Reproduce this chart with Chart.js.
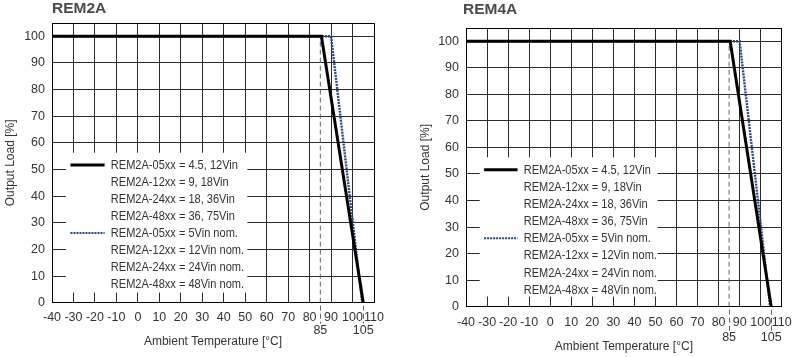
<!DOCTYPE html>
<html><head><meta charset="utf-8">
<script src="https://cdn.jsdelivr.net/npm/chart.js@4.4.0/dist/chart.umd.min.js"></script>
<style>
html,body{margin:0;padding:0;background:#fff;width:800px;height:357px;overflow:hidden}
.wrap{position:absolute;top:0;width:400px;height:357px}
canvas{display:block}
</style></head><body>
<div class="wrap" style="left:0"><canvas id="c1" width="400" height="357"></canvas></div>
<div class="wrap" style="left:400px"><canvas id="c2" width="400" height="357"></canvas></div>
<script>
// ---------- data ----------
const chartTitles = ['REM2A', 'REM4A'];
const xMin = -40, xMax = 110, yMin = 0, yMax = 105;
const xTicks = [-40, -30, -20, -10, 0, 10, 20, 30, 40, 50, 60, 70, 80, 85, 90, 100, 105, 110];
const yTicks = [0, 10, 20, 30, 40, 50, 60, 70, 80, 90, 100, 105];
const markerTemps = [85, 105];
const ratedTemps = [-40, 85.5, 105];
const ratedLoads = [100, 100, 0];
const nomTemps = [-40, 90, 104.5];
const nomLoads = [100, 100, 0];
const refTemps = [85, 85];
const refLoads = [0, 100];
const legendLabels = [
  'REM2A-05xx = 4.5, 12Vin',
  'REM2A-12xx = 9, 18Vin',
  'REM2A-24xx = 18, 36Vin',
  'REM2A-48xx = 36, 75Vin',
  'REM2A-05xx = 5Vin nom.',
  'REM2A-12xx = 12Vin nom.',
  'REM2A-24xx = 24Vin nom.',
  'REM2A-48xx = 48Vin nom.'
];
const xAxisTitle = 'Ambient Temperature [°C]';
const yAxisTitle = 'Output Load [%]';

// ---------- styling / layout ----------
const FONT = '"Liberation Sans", Arial, sans-serif';
const GRID = '#2a2a2a';
const BLUE = '#24468f';
const layouts = [
  {yWidth:52, yTitlePad:3.5, top:23, right:26, xHeight:54.3, xTickPad:8, xLineH:13, xTitlePad:7.8, titleDx:0, titleY:9, rowY:51.7, rowStep:17, markLen:21},
  {yWidth:66, yTitlePad:18.6, top:28, right:12, xHeight:50.3, xTickPad:8.3, xLineH:15, xTitlePad:2.8, titleDx:-3, titleY:10, rowY:51.6, rowStep:17.1, markLen:24}
];

const pts = (xs, ys) => xs.map((x, i) => ({x, y: ys[i]}));

function makeChart(id, idx) {
  const L = layouts[idx];
  const decor = {
    id: 'decor' + idx,
    beforeDatasetsDraw(chart) {
      const {ctx} = chart, xs = chart.scales.x, ys = chart.scales.y;
      const bl = xs.getPixelForValue(-33.5), br = xs.getPixelForValue(51);
      const bt = ys.getPixelForValue(56.3), bb = ys.getPixelForValue(3.8);
      ctx.save();
      ctx.fillStyle = '#fff';
      ctx.fillRect(bl, bt, br - bl, bb - bt);
      const y0 = ys.getPixelForValue(L.rowY);
      const sx0 = xs.getPixelForValue(-31.4), sx1 = xs.getPixelForValue(-15.5);
      const tx = xs.getPixelForValue(-12.6);
      ctx.lineWidth = 3; ctx.strokeStyle = '#000';
      ctx.beginPath(); ctx.moveTo(sx0, y0); ctx.lineTo(sx1, y0); ctx.stroke();
      const yd = y0 + 4 * L.rowStep;
      ctx.lineWidth = 2; ctx.strokeStyle = BLUE; ctx.setLineDash([2, 1]);
      ctx.beginPath(); ctx.moveTo(sx0, yd); ctx.lineTo(sx1, yd); ctx.stroke();
      ctx.setLineDash([]);
      // condensed-looking legend text
      ctx.translate(tx, 0);
      ctx.scale(0.83, 1);
      ctx.font = '13.3px ' + FONT;
      ctx.fillStyle = '#333';
      ctx.textBaseline = 'middle';
      ctx.textAlign = 'left';
      legendLabels.forEach((t, i) => ctx.fillText(t, 0, y0 + i * L.rowStep + 0.5));
      ctx.restore();
    },
    afterDraw(chart) {
      const {ctx, chartArea} = chart, xs = chart.scales.x;
      ctx.save();
      ctx.strokeStyle = '#666'; ctx.lineWidth = 1; ctx.setLineDash([5, 3]);
      markerTemps.forEach(t => {
        const x = Math.round(xs.getPixelForValue(t)) + 0.5;
        ctx.beginPath(); ctx.moveTo(x, chartArea.bottom + 3); ctx.lineTo(x, chartArea.bottom + L.markLen); ctx.stroke();
      });
      ctx.setLineDash([]);
      ctx.fillStyle = '#4a4a4a';
      ctx.font = 'bold 15.5px ' + FONT;
      ctx.textBaseline = 'middle'; ctx.textAlign = 'left';
      ctx.fillText(chartTitles[idx], chartArea.left + L.titleDx, L.titleY);
      ctx.restore();
    }
  };
  return new Chart(document.getElementById(id), {
    type: 'line',
    data: {
      datasets: [
        {data: pts(ratedTemps, ratedLoads), borderColor: '#000', borderWidth: 3, pointRadius: 0, tension: 0, borderJoinStyle: 'miter'},
        {data: pts(nomTemps, nomLoads), borderColor: BLUE, borderWidth: 2.4, borderDash: [2, 1], pointRadius: 0, tension: 0},
        {data: pts(refTemps, refLoads), borderColor: '#666', borderWidth: 1, borderDash: [5, 3], pointRadius: 0, tension: 0}
      ]
    },
    options: {
      responsive: false, animation: false, devicePixelRatio: 1,
      layout: {padding: {left: 0, top: L.top, right: L.right, bottom: 0}},
      plugins: {legend: {display: false}, tooltip: {enabled: false}, title: {display: false}},
      scales: {
        x: {
          type: 'linear', min: xMin, max: xMax,
          afterBuildTicks: s => { s.ticks = xTicks.map(v => ({value: v})); },
          afterFit: s => { s.height = L.xHeight; },
          border: {display: true, color: '#000', width: 1},
          grid: {
            drawTicks: false,
            color: c => (c.tick && c.tick.value % 10 === 0) ? (c.tick.value === xMax ? '#000' : GRID) : 'rgba(0,0,0,0)',
            lineWidth: 1
          },
          ticks: {
            autoSkip: false, maxRotation: 0, minRotation: 0,
            padding: L.xTickPad, color: '#333',
            font: {family: FONT, size: 12.5, lineHeight: L.xLineH + 'px'},
            callback: v => markerTemps.includes(v) ? ['', String(v)] : String(v)
          },
          title: {display: true, text: xAxisTitle, color: '#333', font: {family: FONT, size: 12}, padding: {top: 0, bottom: L.xTitlePad}}
        },
        y: {
          type: 'linear', min: yMin, max: yMax,
          afterBuildTicks: s => { s.ticks = yTicks.map(v => ({value: v})); },
          afterFit: s => { s.width = L.yWidth; },
          border: {display: true, color: '#000', width: 1},
          grid: {drawTicks: false, color: c => (c.tick && c.tick.value === yMax) ? '#000' : GRID, lineWidth: 1},
          ticks: {
            padding: 7, color: '#333',
            font: {family: FONT, size: 12.5},
            callback: v => v <= 100 ? String(v) : ''
          },
          title: {display: true, text: yAxisTitle, color: '#333', font: {family: FONT, size: 12}, padding: {top: L.yTitlePad, bottom: 0}}
        }
      }
    },
    plugins: [decor]
  });
}
makeChart('c1', 0);
makeChart('c2', 1);
</script>
</body></html>
